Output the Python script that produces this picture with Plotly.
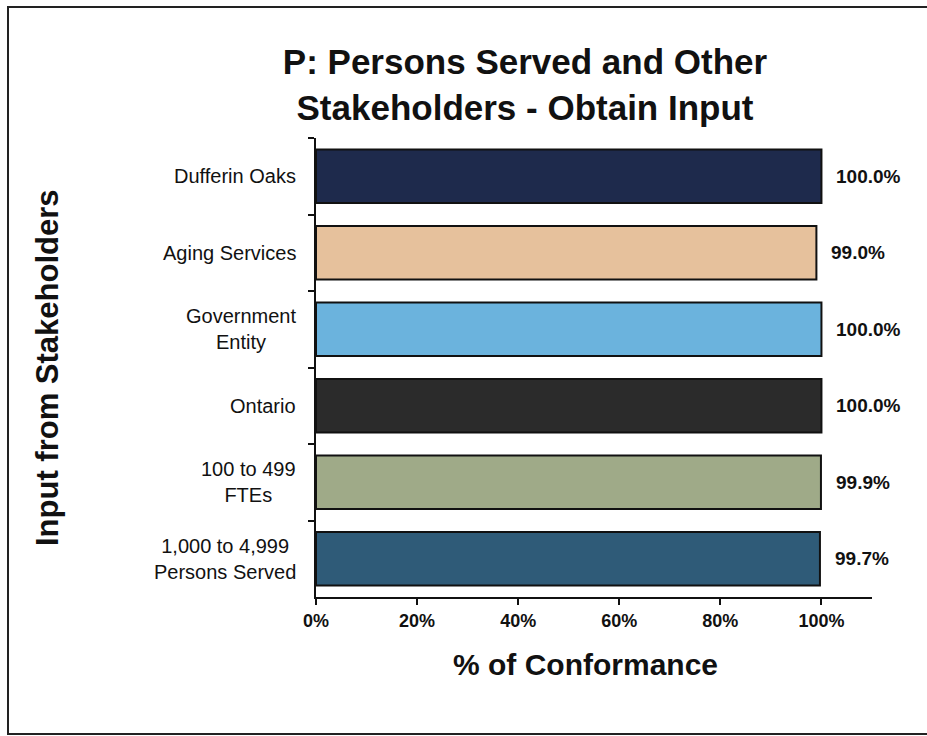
import plotly.graph_objects as go

categories = ["Dufferin Oaks", "Aging Services", "Government<br>Entity", "Ontario",
              "100 to 499<br>FTEs", "1,000 to 4,999<br>Persons Served"]
values = [100.0, 99.0, 100.0, 100.0, 99.9, 99.7]
value_labels = ["100.0%", "99.0%", "100.0%", "100.0%", "99.9%", "99.7%"]
bar_colors = ["#1e2a4c", "#e6c19c", "#6bb3dd", "#2b2b2b", "#9faa88", "#2f5b78"]
x_tickvals = [0, 20, 40, 60, 80, 100]
x_ticktext = ["0%", "20%", "40%", "60%", "80%", "100%"]

W, H = 927, 736
L, R, T, B = 316, 55, 138, 139
pw, ph = W - L - R, H - T - B

def px_x(p):
    return (p - L) / pw

def px_y(p):
    return (H - B - p) / ph

FONT = "Liberation Sans, Arial, sans-serif"

fig = go.Figure(go.Bar(
    x=values, y=categories, orientation="h",
    marker=dict(color=bar_colors, line=dict(color="#111111", width=2)),
    width=0.7, hoverinfo="skip",
))

annotations = []
for c, v, t in zip(categories, values, value_labels):
    annotations.append(dict(x=v, y=c, xref="x", yref="y", text=t, showarrow=False,
                            xanchor="left", yanchor="middle", xshift=13,
                            font=dict(family=FONT, size=19, color="#111111", weight="bold")))
    annotations.append(dict(x=0, y=c, xref="paper", yref="y", text=c, showarrow=False,
                            xanchor="right", yanchor="middle", align="center", xshift=-18,
                            font=dict(family=FONT, size=20, color="#111111")))

annotations.append(dict(x=px_x(585), y=px_y(664), xref="paper", yref="paper",
                        text="% of Conformance", showarrow=False,
                        xanchor="center", yanchor="middle",
                        font=dict(family=FONT, size=30, color="#111111", weight="bold")))
annotations.append(dict(x=px_x(47), y=px_y(368), xref="paper", yref="paper",
                        text="Input from Stakeholders", showarrow=False, textangle=-90,
                        xanchor="center", yanchor="middle",
                        font=dict(family=FONT, size=31, color="#111111", weight="bold")))

fig.update_layout(
    width=W, height=H,
    margin=dict(l=L, r=R, t=T, b=B),
    paper_bgcolor="white", plot_bgcolor="white",
    showlegend=False,
    title=dict(text="P: Persons Served and Other<br>Stakeholders - Obtain Input",
               x=px_x(525), xref="paper", xanchor="center",
               y=1 - 74 / H, yref="container", yanchor="middle",
               font=dict(family=FONT, size=35, color="#111111", weight="bold")),
    xaxis=dict(range=[0, 110], tickvals=x_tickvals, ticktext=x_ticktext,
               showgrid=False, zeroline=False, showline=True, linecolor="#111111", linewidth=2,
               ticks="outside", ticklen=6, tickwidth=2, tickcolor="#111111",
               tickfont=dict(family=FONT, size=18, color="#111111", weight="bold")),
    yaxis=dict(autorange="reversed", showgrid=False, zeroline=False,
               showline=True, linecolor="#111111", linewidth=2,
               ticks="outside", tickson="boundaries", ticklen=6, tickwidth=2, tickcolor="#111111",
               showticklabels=False),
    annotations=annotations,
    shapes=[dict(type="rect", xref="paper", yref="paper",
                 x0=px_x(8), x1=px_x(940), y0=px_y(734), y1=px_y(7),
                 line=dict(color="#222222", width=2), fillcolor="rgba(0,0,0,0)")],
)

fig.write_html("out.html")
